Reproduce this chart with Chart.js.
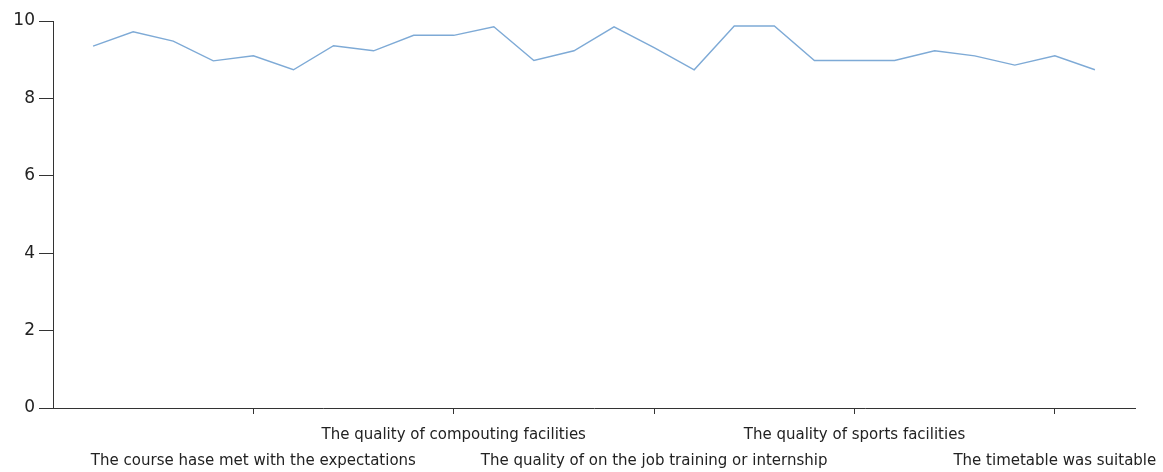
<!DOCTYPE html>
<html>
<head>
<meta charset="utf-8">
<script src="https://cdn.jsdelivr.net/npm/chart.js@4/dist/chart.umd.min.js"></script>
<style>
  html, body { margin: 0; padding: 0; background: #fff; }
  #wrap { width: 1163px; height: 472px; position: relative; }
</style>
</head>
<body>
<div id="wrap"><canvas id="chart"></canvas></div>
<script>
// survey items, one point per item (only every fifth one is labelled on the axis)
const itemIndex = [0, 1, 2, 3, 4, 5, 6, 7, 8, 9, 10, 11, 12, 13, 14, 15, 16, 17, 18, 19, 20, 21, 22, 23, 24, 25];
const scores = [9.35, 9.72, 9.48, 8.97, 9.1, 8.74, 9.36, 9.23, 9.63, 9.63, 9.85, 8.98, 9.23, 9.85, 9.31, 8.74,
                9.87, 9.87, 8.98, 8.98, 8.98, 9.23, 9.1, 8.86, 9.1, 8.74];

// axis labels
const labelPositions = [4, 9, 14, 19, 24];
const labelTexts = [
    'The course hase met with the expectations',
    'The quality of compouting facilities',
    'The quality of on the job training or internship',
    'The quality of sports facilities',
    'The timetable was suitable'
];
const yTicks = [0, 2, 4, 6, 8, 10];

const axisColor = '#333';
const textColor = '#222';

const ctx = document.getElementById('chart').getContext('2d');
new Chart(ctx, {
    type: 'line',
    data: {
        datasets: [{
            data: itemIndex.map((x, i) => ({ x: x, y: scores[i] })),
            borderColor: '#7eaad6',
            borderWidth: 1.4,
            pointRadius: 0,
            tension: 0,
            fill: false
        }]
    },
    options: {
        responsive: true,
        maintainAspectRatio: false,
        animation: false,
        layout: { padding: { top: 21, right: 28, left: 0, bottom: 0 } },
        plugins: {
            legend: { display: false },
            tooltip: { enabled: false }
        },
        scales: {
            x: {
                type: 'linear',
                min: -1,
                max: 26,
                afterBuildTicks: (axis) => {
                    axis.ticks = labelPositions.map(v => ({ value: v }));
                },
                afterFit: (axis) => {
                    axis.height = 64;
                    // let the last label hang past the plot edge instead of shrinking it
                    axis.paddingLeft = 0;
                    axis.paddingRight = 0;
                },
                grid: {
                    drawOnChartArea: false,
                    drawTicks: true,
                    tickLength: 6,
                    color: axisColor
                },
                border: { display: true, color: axisColor, width: 1 },
                ticks: {
                    autoSkip: false,
                    maxRotation: 0,
                    minRotation: 0,
                    padding: 8,
                    color: textColor,
                    font: { family: 'DejaVu Sans', size: 15, lineHeight: 1.73 },
                    callback: (v) => {
                        const k = labelPositions.indexOf(v);
                        if (k < 0) return '';
                        // alternate rows so the long labels do not overlap
                        return k % 2 === 1 ? [labelTexts[k], ''] : ['', labelTexts[k]];
                    }
                }
            },
            y: {
                min: 0,
                max: 10,
                afterBuildTicks: (axis) => {
                    axis.ticks = yTicks.map(v => ({ value: v }));
                },
                afterFit: (axis) => { axis.width = 53; },
                grid: {
                    drawOnChartArea: false,
                    drawTicks: true,
                    tickLength: 14,
                    color: axisColor
                },
                border: { display: true, color: axisColor, width: 1 },
                ticks: {
                    padding: 4,
                    color: textColor,
                    font: { family: 'DejaVu Sans', size: 17 }
                }
            }
        }
    }
});
</script>
</body>
</html>
